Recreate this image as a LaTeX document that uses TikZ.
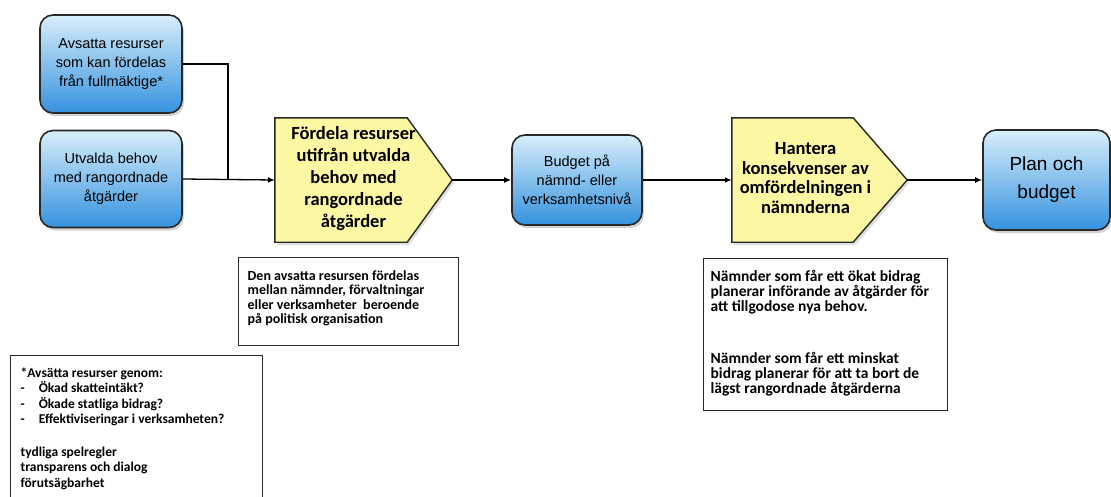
\documentclass[tikz,border=0pt]{standalone}
\usepackage{fontspec}
\setmainfont{Liberation Sans}
\newfontfamily\carlitofont{Carlito}
\usetikzlibrary{shadows,arrows.meta,calc}
\definecolor{bluetop}{RGB}{216,238,251}
\definecolor{bluebot}{RGB}{52,146,222}
\definecolor{yel}{RGB}{251,247,162}
\definecolor{edge}{RGB}{40,40,40}
\begin{document}
\begin{tikzpicture}[x=1pt,y=-1pt,
  bluebox/.style={rectangle,rounded corners=13pt,draw=edge,line width=1.6pt,
    top color=bluetop,bottom color=bluebot,align=center,inner sep=0pt,
    drop shadow={shadow xshift=2pt,shadow yshift=-3pt,opacity=0.35},
    font=\fontsize{14.5}{19}\selectfont},
  yelframe/.style={rectangle,draw=none,inner sep=0pt,minimum width=177pt,minimum height=124pt},
  yelshape/.style={draw=edge,line width=1.4pt,fill=yel,
    drop shadow={shadow xshift=2pt,shadow yshift=-3pt,opacity=0.25}},
  yeltext/.style={align=center,inner sep=0pt,font=\carlitofont\bfseries\fontsize{18.5}{22}\selectfont},
  textbox/.style={rectangle,draw=edge,line width=1.3pt,fill=white,
    anchor=north west,inner sep=0pt},
  conn/.style={line width=1.3pt,-{Latex[length=7pt,width=6pt]}}
]
\useasboundingbox (0,0) rectangle (1111,496);
\node[bluebox,minimum width=142pt,minimum height=98pt] (a) at (111,64) {Avsatta resurser\\som kan fördelas\\från fullmäktige*};
\node[bluebox,minimum width=142pt,minimum height=97pt] (b) at (111,179) {Utvalda behov\\med rangordnade\\åtgärder};
% first pentagon
\node[yelframe] (f) at (363.5,180) {};
\path[yelshape] (f.north west) -- ($(f.north east)+(-45,0)$) -- (f.east) -- ($(f.south east)+(-45,0)$) -- (f.south west) -- cycle;
\node[yeltext] (ft) at ($(f.center)+(-10,-1)$) {Fördela resurser\\utifrån utvalda\\behov med\\rangordnade\\åtgärder};
\node[bluebox,minimum width=130pt,minimum height=90pt] (bud) at (577,180) {Budget på\\nämnd- eller\\verksamhetsnivå};
% second pentagon
\node[yelframe,minimum width=175pt] (h) at (819.5,180) {};
\path[yelshape] (h.north west) -- ($(h.north east)+(-54,0)$) -- (h.east) -- ($(h.south east)+(-54,0)$) -- (h.south west) -- cycle;
\node[yeltext,font=\carlitofont\bfseries\fontsize{18.5}{19.8}\selectfont] (ht) at ($(h.center)+(-14,-2)$) {Hantera\\konsekvenser av\\omfördelningen i\\nämnderna};
\node[bluebox,minimum width=127pt,minimum height=100pt,font=\fontsize{19}{28}\selectfont] (plan) at (1046.5,180) {Plan och\\budget};
\coordinate (j) at (228,180);
\draw[line width=1.3pt] (a.east) -| (j);
\draw[conn] (b.east) -- (f.west);
\draw[conn] (f.east) -- (bud.west);
\draw[conn] (bud.east) -- (h.west);
\draw[conn] (h.east) -- (plan.west);
\node[textbox,inner xsep=9pt,inner ysep=13pt] (t1) at (238,257)
  {\parbox[t][62pt][t]{202pt}{\carlitofont\bfseries\fontsize{14}{14.5}\selectfont\raggedright
  Den avsatta resursen fördelas\\mellan nämnder, förvaltningar\\eller verksamheter\ \ beroende\\på politisk organisation}};
\node[textbox,inner xsep=7pt,inner ysep=12pt] (t3) at (703,258)
  {\parbox[t][128pt][t]{230pt}{\carlitofont\bfseries\fontsize{15.5}{15}\selectfont\raggedright
  Nämnder som får ett ökat bidrag\\planerar införande av åtgärder för\\att tillgodose nya behov.\\[37pt]Nämnder som får ett minskat\\bidrag planerar för att ta bort de\\lägst rangordnade åtgärderna}};
\node[textbox,inner xsep=10pt,inner ysep=12pt] (t2) at (10,355)
  {\parbox[t][130pt][t]{232pt}{\carlitofont\bfseries\fontsize{13.5}{15.5}\selectfont\raggedright
  *Avsätta resurser genom:\\-\hspace{14pt}Ökad skatteintäkt?\\-\hspace{14pt}Ökade statliga bidrag?\\-\hspace{14pt}Effektiviseringar i verksamheten?\\[17pt]tydliga spelregler\\transparens och dialog\\förutsägbarhet}};
\end{tikzpicture}
\end{document}
